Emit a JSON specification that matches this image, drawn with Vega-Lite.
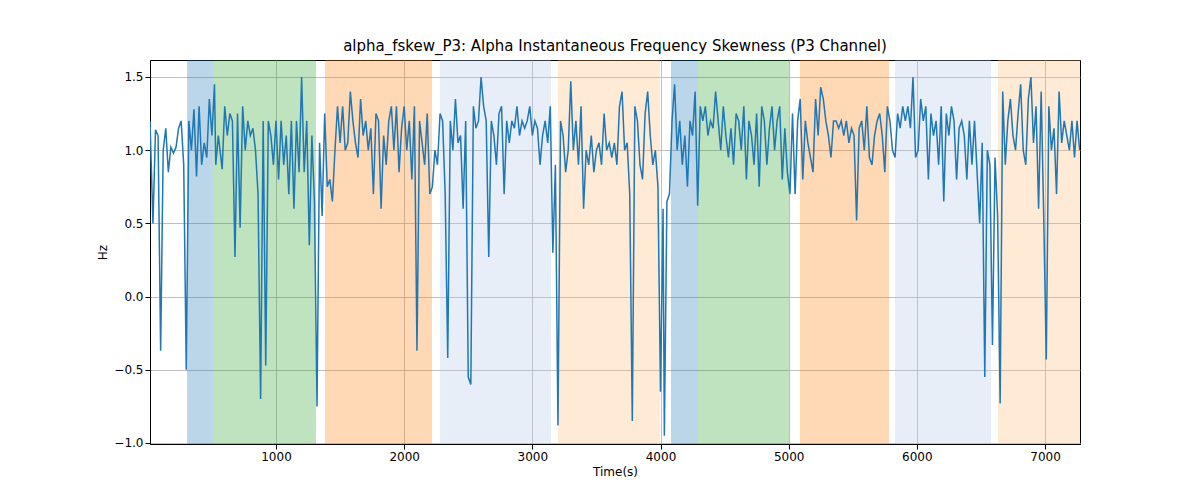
{"$schema":"https://vega.github.io/schema/vega-lite/v6.json","width":930,"height":384,"autosize":"none","padding":{"left":150,"top":60,"right":120,"bottom":56},
"title":{"text":"alpha_fskew_P3: Alpha Instantaneous Frequency Skewness (P3 Channel)","font":"DejaVu Sans","fontSize":15,"fontWeight":"normal","offset":6},
"config":{"font":"DejaVu Sans","view":{"stroke":"black"},"axis":{"labelFont":"DejaVu Sans","titleFont":"DejaVu Sans","labelFontSize":12,"titleFontSize":12,"titleFontWeight":"normal","grid":true,"gridColor":"#b0b0b0","gridWidth":0.8,"tickColor":"black","domainColor":"black","labelColor":"black"}},
"datasets":{"bands":[{"s":306,"e":508,"k":"a"},{"s":508,"e":1312,"k":"b"},{"s":1382,"e":2217,"k":"c"},{"s":2280,"e":3146,"k":"d"},{"s":3200,"e":3996,"k":"e"},{"s":4082,"e":4293,"k":"a"},{"s":4293,"e":5003,"k":"b"},{"s":5088,"e":5783,"k":"c"},{"s":5830,"e":6579,"k":"d"},{"s":6633,"e":7273,"k":"e"}],
"line":[[17,1.2],[40,0.5],[60,1.14],[80,1.1],[100,-0.37],[120,1.0],[140,1.15],[160,0.85],[180,1.02],[200,0.98],[220,1.02],[240,1.15],[260,1.2],[280,0.9],[300,-0.5],[320,1.2],[340,1.0],[360,1.28],[380,0.82],[400,1.3],[420,0.9],[440,1.05],[460,0.95],[480,1.35],[500,1.1],[520,1.45],[530,0.9],[550,1.1],[580,0.87],[600,1.3],[620,1.1],[640,1.25],[660,1.2],[680,0.27],[700,1.25],[720,0.47],[740,1.3],[760,1.0],[780,1.2],[800,1.1],[820,1.15],[840,1.0],[860,0.7],[880,-0.7],[900,1.2],[920,-0.47],[940,1.2],[960,1.1],[980,0.9],[1000,1.2],[1020,0.8],[1040,1.2],[1060,0.9],[1080,1.1],[1100,0.7],[1120,1.2],[1140,0.6],[1160,1.2],[1180,0.85],[1200,1.5],[1220,0.85],[1240,1.2],[1260,0.35],[1280,1.1],[1300,0.65],[1320,-0.75],[1340,1.05],[1360,0.55],[1380,1.25],[1400,0.75],[1420,0.8],[1440,0.65],[1460,1.0],[1480,1.3],[1500,1.05],[1520,1.3],[1540,1.0],[1560,1.05],[1580,1.4],[1600,1.2],[1620,1.05],[1640,0.95],[1660,1.35],[1680,1.1],[1700,1.2],[1720,1.0],[1740,1.15],[1760,0.7],[1780,1.25],[1800,1.2],[1820,0.6],[1840,1.1],[1860,0.9],[1880,1.2],[1900,1.3],[1920,1.0],[1940,1.3],[1960,0.85],[1980,1.15],[2000,1.3],[2020,1.0],[2040,1.2],[2060,0.8],[2080,1.3],[2100,-0.37],[2120,1.2],[2140,1.05],[2160,0.9],[2180,1.25],[2200,0.7],[2220,0.75],[2240,1.0],[2260,0.9],[2280,1.25],[2300,1.2],[2320,0.7],[2340,-0.42],[2360,1.2],[2380,1.0],[2400,1.35],[2420,1.05],[2440,1.1],[2460,0.6],[2480,1.2],[2500,-0.55],[2520,-0.6],[2540,1.3],[2560,1.15],[2580,1.2],[2600,1.5],[2620,1.3],[2640,1.2],[2660,0.27],[2680,1.2],[2700,1.1],[2720,0.9],[2740,1.25],[2760,1.3],[2780,0.7],[2800,1.2],[2820,1.05],[2840,1.2],[2860,1.15],[2880,1.3],[2900,1.1],[2920,1.2],[2940,1.15],[2960,1.2],[2980,1.3],[3000,1.1],[3020,1.2],[3040,1.15],[3060,0.9],[3080,1.1],[3100,1.2],[3120,1.05],[3140,1.3],[3160,0.3],[3180,0.9],[3200,-0.88],[3220,1.2],[3240,1.1],[3260,0.85],[3280,1.0],[3300,1.47],[3320,1.0],[3340,1.2],[3360,0.9],[3380,1.3],[3400,0.6],[3420,1.0],[3440,0.9],[3460,1.1],[3480,0.85],[3500,1.0],[3520,1.05],[3540,0.9],[3560,1.25],[3580,1.0],[3600,1.05],[3620,0.95],[3640,1.05],[3660,0.9],[3680,1.3],[3700,1.4],[3720,1.0],[3740,1.05],[3760,0.7],[3780,-0.85],[3800,1.3],[3820,1.2],[3840,0.9],[3860,0.8],[3880,1.25],[3900,1.4],[3920,1.1],[3940,0.9],[3960,1.0],[3980,0.75],[4000,-0.65],[4020,0.6],[4030,-0.95],[4050,0.65],[4070,0.7],[4090,1.2],[4110,1.45],[4130,1.0],[4150,1.2],[4170,0.9],[4190,1.1],[4210,0.75],[4230,1.2],[4250,1.1],[4270,1.4],[4290,0.62],[4310,1.3],[4330,1.2],[4350,1.3],[4370,1.1],[4390,1.2],[4410,1.15],[4430,1.4],[4450,1.2],[4470,1.0],[4490,1.3],[4510,1.1],[4530,0.95],[4550,1.15],[4570,0.9],[4590,1.25],[4610,1.2],[4630,1.0],[4650,1.3],[4670,0.8],[4690,1.2],[4710,1.1],[4730,0.9],[4750,1.25],[4770,0.75],[4790,1.3],[4810,1.2],[4830,0.9],[4850,1.15],[4870,1.3],[4890,1.0],[4910,1.2],[4930,1.3],[4950,0.8],[4970,1.15],[4990,0.85],[5010,0.7],[5030,1.25],[5050,0.7],[5070,1.2],[5090,1.35],[5110,0.8],[5130,1.2],[5150,1.05],[5170,0.95],[5190,0.85],[5210,1.35],[5230,1.1],[5250,1.43],[5270,1.35],[5290,1.2],[5310,1.1],[5330,0.95],[5350,1.2],[5370,1.2],[5390,1.15],[5410,1.2],[5430,1.1],[5450,1.2],[5470,1.05],[5490,1.15],[5510,1.1],[5530,0.52],[5550,1.15],[5570,1.2],[5590,1.0],[5610,1.3],[5630,0.95],[5650,0.9],[5670,1.1],[5690,1.2],[5710,1.25],[5730,1.1],[5750,0.85],[5770,1.3],[5790,1.2],[5810,1.0],[5830,0.95],[5850,1.25],[5870,1.15],[5890,1.3],[5910,1.2],[5930,1.3],[5950,1.15],[5970,1.5],[5990,0.95],[6010,1.0],[6030,1.35],[6050,1.2],[6070,1.3],[6090,0.8],[6110,1.25],[6130,1.1],[6150,1.2],[6170,0.9],[6190,1.3],[6210,0.65],[6230,1.25],[6250,1.1],[6270,1.3],[6290,1.2],[6310,0.8],[6330,1.15],[6350,1.2],[6370,1.1],[6390,0.8],[6410,1.2],[6430,0.9],[6450,1.2],[6470,0.85],[6490,0.5],[6510,1.05],[6530,-0.55],[6550,1.0],[6570,0.9],[6590,-0.33],[6610,0.95],[6630,0.55],[6650,-0.73],[6670,1.4],[6690,0.9],[6710,1.2],[6730,1.35],[6750,1.1],[6770,1.0],[6790,1.25],[6810,1.45],[6830,1.0],[6850,0.9],[6870,1.35],[6890,1.5],[6910,1.05],[6930,1.3],[6950,0.6],[6970,1.4],[6990,0.55],[7010,-0.43],[7030,1.3],[7050,1.0],[7070,1.15],[7090,0.7],[7110,1.4],[7130,1.05],[7150,1.2],[7170,1.1],[7190,1.0],[7210,1.2],[7230,0.95],[7250,1.2],[7270,1.0]]},
"layer":[
{"data":{"name":"bands"},"mark":{"type":"rect","opacity":0.3},"encoding":{"x":{"field":"s","type":"quantitative","scale":{"domain":[17,7273],"nice":false,"zero":false},"title":"Time(s)","axis":{"values":[1000,2000,3000,4000,5000,6000,7000],"format":"d"}},"x2":{"field":"e"},"y":{"datum":-1.007,"type":"quantitative","scale":{"domain":[-1.007,1.616],"nice":false,"zero":false}},"y2":{"datum":1.616},"color":{"field":"k","type":"nominal","legend":null,"scale":{"domain":["a","b","c","d","e"],"range":["#1f77b4","#2ca02c","#ff7f0e","#aec7e8","#ffbb78"]}}}},
{"data":{"name":"line"},"transform":[{"calculate":"datum[0]","as":"t"},{"calculate":"datum[1]","as":"v"}],"mark":{"type":"line","color":"#1f77b4","strokeWidth":1.5,"clip":true},"encoding":{"x":{"field":"t","type":"quantitative"},"y":{"field":"v","type":"quantitative","title":"Hz","axis":{"values":[-1,-0.5,0,0.5,1,1.5],"format":".1f"}}}}
]}
